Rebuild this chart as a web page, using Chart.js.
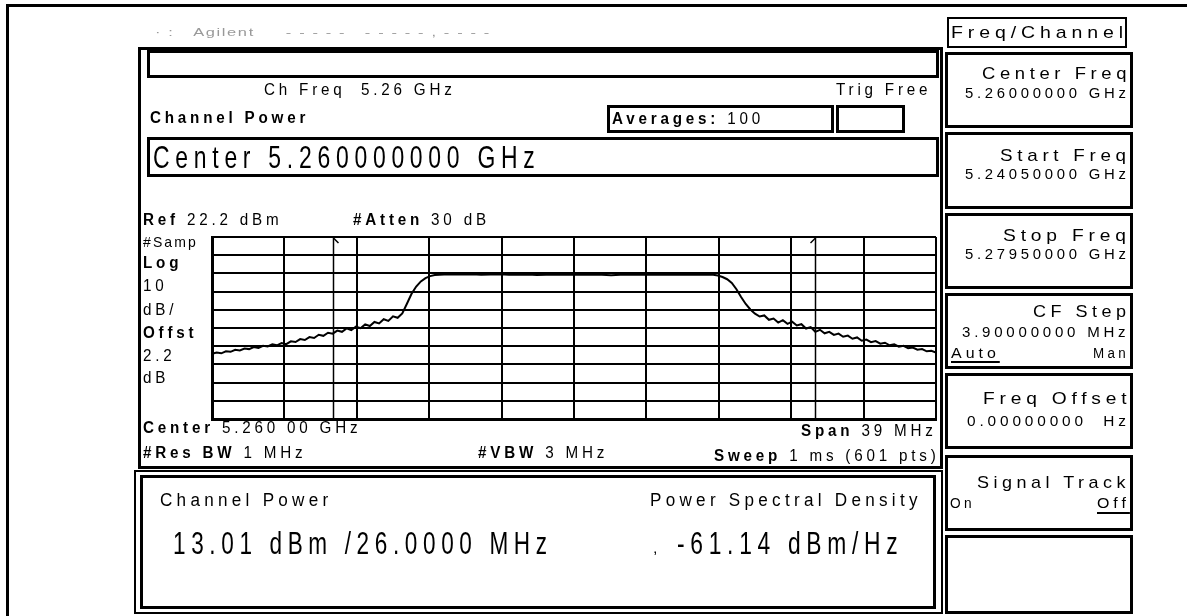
<!DOCTYPE html>
<html>
<head>
<title>Channel Power</title>
<script src="https://cdn.jsdelivr.net/npm/chart.js"></script>
<style>
    body { margin: 0; width: 1187px; height: 616px; position: relative; overflow: hidden; background: #fff; color: #000;
           font-family: "Liberation Sans", Arial, sans-serif; }
    .box { position: absolute; border: 3px solid #000; box-sizing: border-box; }
    .t { position: absolute; white-space: nowrap; line-height: 1; transform-origin: left center; letter-spacing: 0.25em; }
    #plot { position: absolute; left: 210px; top: 235px; width: 728px; height: 186px; }
</style>
</head>
<body>
    <div id="plot"><canvas id="spectrum" width="728" height="186"></canvas></div>

    <script>
        // trace: MHz offset from 5.26 GHz centre, level in dBm
        const freqs = [
            -19.5, -19.25, -19, -18.75, -18.5, -18.25, -18, -17.75, -17.5, -17.25,
            -17, -16.75, -16.5, -16.25, -16, -15.75, -15.5, -15.25, -15, -14.75,
            -14.5, -14.25, -14, -13.75, -13.5, -13.25, -13, -12.75, -12.5, -12.25,
            -12, -11.75, -11.5, -11.25, -11, -10.75, -10.5, -10.25, -10, -9.75,
            -9.5, -9.25, -9, -8.75, -8.5, -8.25, -8, -7.75, -7.5,
            -7, -6.5, -6, -5.5, -5, -4.5, -4, -3.5, -3, -2.5,
            -2, -1.5, -1, -0.5, 0, 0.5, 1, 1.5, 2, 2.5,
            3, 3.5, 4, 4.5, 5, 5.5, 6, 6.5, 7, 7.5,
            7.75, 8, 8.25, 8.5, 8.75, 9, 9.25, 9.5, 9.75, 10,
            10.25, 10.5, 10.75, 11, 11.25, 11.5, 11.75, 12, 12.25, 12.5,
            12.75, 13, 13.25, 13.5, 13.75, 14, 14.25, 14.5, 14.75, 15,
            15.25, 15.5, 15.75, 16, 16.25, 16.5, 16.75, 17, 17.25, 17.5,
            17.75, 18, 18.25, 18.5, 18.75, 19, 19.25, 19.5
        ];
        const levels = [
            -42.0, -41.3, -41.7, -40.6, -40.9, -39.8, -40.1, -39.1, -39.4, -38.3,
            -38.8, -37.6, -37.9, -36.8, -37.3, -36.1, -36.7, -35.1, -35.5, -33.9,
            -34.4, -32.8, -33.3, -31.5, -32.1, -30.4, -30.9, -29.2, -29.9, -28.0,
            -29.0, -27.1, -27.9, -25.8, -26.7, -24.5, -25.3, -23.0, -23.9, -21.4,
            -22.2, -19.8, -14.5, -9.0, -5.0, -2.2, -0.4, 0.7, 1.3,
            1.6, 1.7, 1.6, 1.8, 1.5, 1.6, 1.7, 1.4, 1.5, 1.6,
            1.3, 1.4, 1.6, 1.5, 1.4, 1.5, 1.6, 1.4, 1.2, 1.5,
            1.6, 1.4, 1.5, 1.6, 1.4, 1.5, 1.6, 1.5, 1.6, 1.4,
            1.0, 0.2, -1.0, -3.0, -6.5, -10.8, -14.6, -17.6, -19.9, -21.5,
            -20.9, -23.3, -22.6, -24.8, -23.5, -25.5, -24.3, -26.4, -25.7, -28.1,
            -27.3, -29.9, -28.8, -30.7, -29.9, -31.6, -30.9, -32.6, -32.0, -33.7,
            -33.0, -34.8, -34.2, -35.6, -35.0, -36.4, -35.9, -37.3, -36.8, -38.1,
            -37.6, -38.9, -38.5, -39.7, -39.4, -40.6, -40.3, -41.3
        ];

        // graticule: 3.9 MHz/div, ref 22.2 dBm at 10 dB/div
        const xTicks = [-19.5, -15.6, -11.7, -7.8, -3.9, 0, 3.9, 7.8, 11.7, 15.6, 19.5];
        const yTicks = [22.2, 12.2, 2.2, -7.8, -17.8, -27.8, -37.8, -47.8, -57.8, -67.8, -77.8];
        const chanWidth = 26;   // MHz integration bandwidth

        // channel edge markers
        const channelMarkers = {
            id: 'channelMarkers',
            afterDatasetsDraw(chart) {
                const { ctx, chartArea, scales: { x } } = chart;
                ctx.save();
                ctx.strokeStyle = '#000';
                ctx.lineWidth = 1.5;
                [-chanWidth / 2, chanWidth / 2].forEach((f, i) => {
                    const px = Math.round(x.getPixelForValue(f)) + 0.5;
                    ctx.beginPath();
                    ctx.moveTo(px, chartArea.top);
                    ctx.lineTo(px, chartArea.bottom);
                    ctx.stroke();
                    const d = i === 0 ? 1 : -1;
                    ctx.beginPath();
                    ctx.moveTo(px, chartArea.top + 1);
                    ctx.lineTo(px + d * 5, chartArea.top + 6);
                    ctx.stroke();
                });
                ctx.restore();
            }
        };

        new Chart(document.getElementById('spectrum'), {
            type: 'line',
            data: {
                datasets: [{
                    data: freqs.map((f, i) => ({ x: f, y: levels[i] })),
                    borderColor: '#000',
                    borderWidth: 2,
                    pointRadius: 0,
                    tension: 0
                }]
            },
            options: {
                responsive: false,
                animation: false,
                layout: { padding: 2 },
                plugins: { legend: { display: false }, tooltip: { enabled: false } },
                scales: {
                    x: {
                        type: 'linear', min: -19.5, max: 19.5,
                        afterBuildTicks: axis => { axis.ticks = xTicks.map(v => ({ value: v })); },
                        ticks: { display: false },
                        grid: { color: '#000', lineWidth: 2, drawTicks: false },
                        border: { color: '#000', width: 3 }
                    },
                    y: {
                        min: -77.8, max: 22.2,
                        afterBuildTicks: axis => { axis.ticks = yTicks.map(v => ({ value: v })); },
                        ticks: { display: false },
                        grid: { color: '#000', lineWidth: 2, drawTicks: false },
                        border: { color: '#000', width: 3 }
                    }
                }
            },
            plugins: [channelMarkers]
        });

        // screen furniture
        function box(x1, y1, x2, y2, bw) {
            const d = document.createElement('div');
            d.className = 'box';
            d.style.left = x1 + 'px';
            d.style.top = y1 + 'px';
            d.style.width = (x2 - x1) + 'px';
            d.style.height = (y2 - y1) + 'px';
            if (bw) d.style.borderWidth = bw + 'px';
            document.body.appendChild(d);
        }

        // text centred on cy; with both edges given it is squeezed to x1..x2,
        // with one edge it keeps the instrument font's 0.95 squeeze
        function put(html, x1, x2, cy, size, css) {
            const s = document.createElement('div');
            s.className = 't';
            s.innerHTML = html;
            s.style.fontSize = size + 'px';
            if (css) Object.assign(s.style, css);
            document.body.appendChild(s);
            const ls = parseFloat(getComputedStyle(s).letterSpacing) || 0;
            const w = s.offsetWidth - ls, h = s.offsetHeight;
            const sx = (x1 != null && x2 != null) ? (x2 - x1) / w : 0.95;
            const left = x1 != null ? x1 : x2 - w * sx;
            s.style.left = left + 'px';
            s.style.top = (cy - h / 2) + 'px';
            s.style.transform = 'scaleX(' + sx + ')';
        }

        box(6, 4, 1200, 700, 3);
        box(138, 47, 943, 469, 3);
        box(147, 50, 939, 78, 3);
        box(607, 105, 834, 133, 3);
        box(836, 105, 905, 133, 3);
        box(147, 137, 939, 177, 3);
        box(134, 470, 943, 614, 2);
        box(140, 475, 936, 609, 3);

        // softkeys
        box(947, 17, 1127, 48, 2);
        box(945, 52, 1133, 128);
        box(945, 132, 1133, 209);
        box(945, 213, 1133, 289);
        box(945, 293, 1133, 369);
        box(945, 373, 1133, 449);
        box(945, 455, 1133, 531);
        box(945, 535, 1133, 614);

        put('· :&nbsp;&nbsp;&nbsp;Agilent&nbsp;&nbsp;&nbsp;&nbsp;&nbsp;- - - - -&nbsp;&nbsp;&nbsp;- - - - - ,&nbsp;- - - -', 155, 490, 33, 10, { color: '#999', letterSpacing: '0.1em' });
        put('Ch Freq', 264, null, 90, 16);
        put('5.26 GHz', 361, null, 90, 16);
        put('Trig Free', null, 927, 90, 16);
        put('<b>Channel Power</b>', 150, null, 118, 16);
        put('<b>Averages:</b> 100', 612, null, 119, 16);
        put('Center 5.260000000 GHz', 153, 535, 157, 32);

        put('<b>Ref</b> 22.2 dBm', 143, null, 220, 16);
        put('<b>#Atten</b> 30 dB', 353, null, 220, 16);
        put('#Samp', 143, 196, 241, 15, { letterSpacing: '0.15em' });
        put('<b>Log</b>', 143, null, 263, 16);
        put('10', 143, null, 286, 16);
        put('dB/', 143, null, 310, 16);
        put('<b>Offst</b>', 143, null, 333, 16);
        put('2.2', 143, null, 356, 16);
        put('dB', 143, null, 378, 16);

        put('<b>Center</b> 5.260 00 GHz', 143, null, 428, 16);
        put('<b>Span</b> 39 MHz', null, 933, 431, 16);
        put('<b>#Res BW</b> 1 MHz', 143, null, 453, 16);
        put('<b>#VBW</b> 3 MHz', 478, null, 453, 16);
        put('<b>Sweep</b> 1 ms (601 pts)', null, 935, 456, 16);

        put('Channel Power', 160, null, 500, 18);
        put('Power Spectral Density', null, 917, 500, 18);
        put('13.01 dBm /26.0000 MHz', 173, 547, 543, 31);
        put(',', 653, 657, 548, 14);
        put('-61.14 dBm/Hz', 677, 898, 543, 31);

        put('Freq/Channel', 951, 1123, 32, 17);
        put('Center Freq', 982, 1126, 73, 17);
        put('5.26000000 GHz', 965, 1126, 93, 14);
        put('Start Freq', 1000, 1126, 155, 17);
        put('5.24050000 GHz', 965, 1126, 174, 14);
        put('Stop Freq', 1003, 1126, 235, 17);
        put('5.27950000 GHz', 965, 1126, 254, 14);
        put('CF Step', 1033, 1126, 311, 17);
        put('3.90000000 MHz', 962, 1126, 332, 14);
        put('Auto', 951, 996, 353, 14, { textDecoration: 'underline', textDecorationThickness: '2px', textUnderlineOffset: '3px' });
        put('Man', 1093, 1126, 353, 14);
        put('Freq Offset', 983, 1126, 398, 17);
        put('0.00000000&nbsp;&nbsp;Hz', 967, 1126, 421, 14);
        put('Signal Track', 977, 1126, 482, 17);
        put('On', 950, 972, 503, 14);
        put('Off', 1097, 1126, 503, 14, { textDecoration: 'underline', textDecorationThickness: '2px', textUnderlineOffset: '4px' });
    </script>
</body>
</html>
